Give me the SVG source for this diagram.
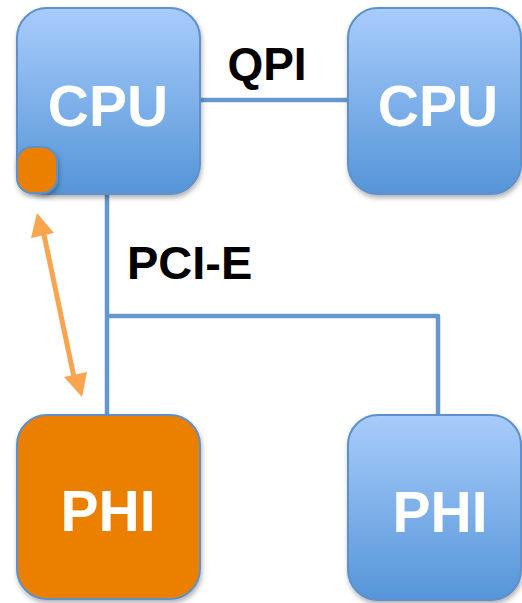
<svg xmlns="http://www.w3.org/2000/svg" width="522" height="603" viewBox="0 0 522 603">
<defs>
<linearGradient id="blue" x1="0" y1="0" x2="0" y2="1">
<stop offset="0" stop-color="#A8CCFB"/>
<stop offset="1" stop-color="#5595D8"/>
</linearGradient>
<filter id="sh" x="-10%" y="-10%" width="130%" height="130%">
<feDropShadow dx="1" dy="3" stdDeviation="2.5" flood-color="#000" flood-opacity="0.3"/>
</filter>
</defs>
<style>
.blue{fill:url(#blue);stroke:#5E90CA;stroke-width:2;filter:url(#sh)}
.orange{fill:#EA7F04;stroke:#5E90CA;stroke-width:2;filter:url(#sh)}
.lbl{font-family:"Liberation Sans",Arial,sans-serif;font-weight:bold;font-size:57px;fill:#fff;text-anchor:middle}
.blk{font-family:"Liberation Sans",Arial,sans-serif;font-weight:bold;fill:#000}
.wire{stroke:#6597CE;stroke-width:4.5;fill:none;stroke-linejoin:round}
.arr{stroke:#F9A54F;stroke-width:5;fill:none}
</style>
<g id="connectors">
<line class="wire" x1="200" y1="100" x2="349" y2="100"/>
<line class="wire" x1="107" y1="194" x2="107" y2="416"/>
<polyline class="wire" points="107,316 438,316 438,416"/>
<g id="arrow">
<line class="arr" x1="43" y1="230" x2="75" y2="382"/>
<polygon points="37,213 31,238 54,233" fill="#F9A54F"/>
<polygon points="82,397 87,372 64,377" fill="#F9A54F"/>
</g>
</g>
<g id="cpu1">
<rect class="blue" x="17" y="8" width="183" height="186" rx="30"/>
<text class="lbl" x="108" y="126">CPU</text>
<rect class="orange" x="17" y="147" width="40" height="46" rx="15"/>
</g>
<g id="cpu2">
<rect class="blue" x="348" y="8" width="173" height="186" rx="30"/>
<text class="lbl" x="438" y="126">CPU</text>
</g>
<g id="phi1">
<rect class="orange" x="17" y="415" width="183" height="184" rx="30"/>
<text class="lbl" x="108" y="531">PHI</text>
</g>
<g id="phi2">
<rect class="blue" x="348" y="415" width="173" height="185" rx="30"/>
<text class="lbl" x="440" y="532">PHI</text>
</g>
<text class="blk" x="267" y="80" font-size="46" text-anchor="middle">QPI</text>
<text class="blk" x="127" y="279" font-size="47">PCI-E</text>
</svg>
